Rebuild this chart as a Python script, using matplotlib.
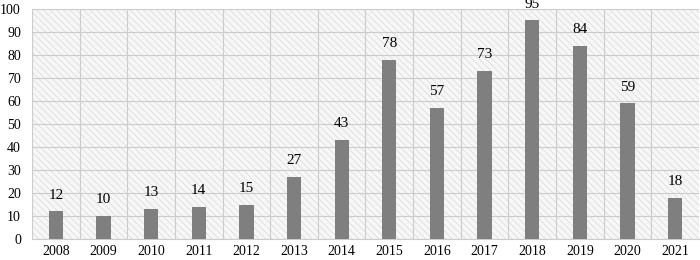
import matplotlib.pyplot as plt
import numpy as np

years = ["2008", "2009", "2010", "2011", "2012", "2013", "2014",
         "2015", "2016", "2017", "2018", "2019", "2020", "2021"]
counts = [12, 10, 13, 14, 15, 27, 43, 78, 57, 73, 95, 84, 59, 18]

plt.rcParams["font.family"] = ["Liberation Serif", "DejaVu Serif"]
plt.rcParams["hatch.color"] = "#d9d9d9"
plt.rcParams["hatch.linewidth"] = 0.6

fig = plt.figure(figsize=(7, 2.6), dpi=100)
ax = fig.add_axes([32 / 700, 21 / 260, 667 / 700, 230 / 260])

x = np.arange(len(years))
ax.set_xlim(-0.5, len(years) - 0.5)
ax.set_ylim(0, 100)

# hatched plot background
ax.add_patch(plt.Rectangle((0, 0), 1, 1, transform=ax.transAxes,
                           facecolor="#f7f7f7", hatch="\\\\\\\\\\",
                           edgecolor="#dcdcdc", linewidth=0, zorder=0))
ax.set_facecolor("white")

ax.set_yticks(range(0, 101, 10))
ax.set_xticks(x)
ax.set_xticklabels(years)
ax.set_xticks(np.arange(-0.5, len(years), 1), minor=True)
ax.grid(axis="y", which="major", color="#cccccc", linewidth=0.8, zorder=1)
ax.grid(axis="x", which="minor", color="#cccccc", linewidth=0.8, zorder=1)
ax.grid(axis="x", which="major", visible=False)
ax.set_axisbelow(True)

bars = ax.bar(x, counts, width=0.3, color="#7f7f7f", zorder=3)
ax.bar_label(bars, padding=7, fontsize=11)

for side in ["top", "right", "left"]:
    ax.spines[side].set_visible(False)
ax.spines["bottom"].set_color("#cccccc")
ax.tick_params(axis="both", which="both", length=0, labelsize=10)
ax.tick_params(axis="y", pad=8)
ax.tick_params(axis="x", pad=4)

fig.savefig("out.png", dpi=100)
